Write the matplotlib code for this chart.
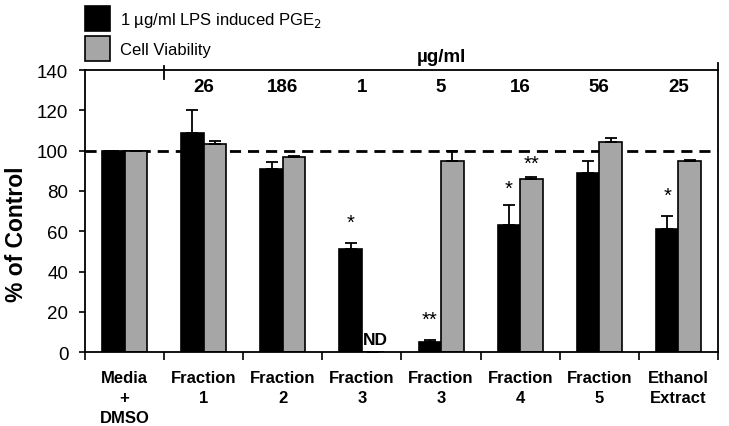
import numpy as np
import matplotlib
matplotlib.use('Agg')
import matplotlib.pyplot as plt

plt.rcParams['font.family'] = ['Liberation Sans', 'DejaVu Sans']

# ======= Data =======
categories = ['Media\n+\nDMSO', 'Fraction\n1', 'Fraction\n2', 'Fraction\n3',
              'Fraction\n3', 'Fraction\n4', 'Fraction\n5', 'Ethanol\nExtract']
doses = ['', '26', '186', '1', '5', '16', '56', '25']

pge2 = [100, 109, 91, 51, 5, 63, 89, 61]
pge2_err = [0, 11, 3.3, 3.3, 1, 10, 6, 6.7]
viability = [100, 103.3, 97, 0, 95, 86, 104.5, 95]
viability_err = [0, 1.3, 0.5, 0, 4.7, 1.1, 1.8, 0.3]

pge2_marks = ['', '', '', '*', '**', '*', '', '*']
pge2_mark_y = [0, 0, 0, 64.5, 16.5, 81.5, 0, 78]
viab_marks = ['', '', '', '', '', '**', '', '']
viab_mark_y = [0, 0, 0, 0, 0, 93.5, 0, 0]

x = np.arange(len(categories))
w = 0.285

fig = plt.figure(figsize=(7.29, 4.27), dpi=100)
ax = fig.add_axes([0.1166, 0.1726, 0.8683, 0.6611])

ax.axhline(100, color='black', linestyle=(0, (4, 2.5)), linewidth=2, zorder=1)

b1 = ax.bar(x - w / 2, pge2, w, color='black', edgecolor='black', linewidth=1.2,
            label='1 µg/ml LPS induced PGE$_2$', zorder=2)
b2 = ax.bar(x + w / 2, viability, w, color='#a6a6a6', edgecolor='black', linewidth=1.2,
            label='Cell Viability', zorder=2)

ax.errorbar(x - w / 2, pge2, yerr=[np.zeros(len(x)), pge2_err], fmt='none',
            ecolor='black', elinewidth=1.3, capsize=4.5, capthick=1.3, zorder=3)
ax.errorbar(x + w / 2, viability, yerr=[np.zeros(len(x)), viability_err], fmt='none',
            ecolor='black', elinewidth=1.3, capsize=4.5, capthick=1.3, zorder=3)

# significance stars
for i in range(len(x)):
    if pge2_marks[i]:
        ax.text(x[i] - w / 2, pge2_mark_y[i], pge2_marks[i], ha='center', va='center',
                fontsize=14.5)
    if viab_marks[i]:
        ax.text(x[i] + w / 2, viab_mark_y[i], viab_marks[i], ha='center', va='center',
                fontsize=14.5)
ax.text(x[3] + w / 2 + 0.03, 6.5, 'ND', ha='center', va='center', fontsize=12.5,
        fontweight='bold')

# doses along the top
for i in range(len(x)):
    if doses[i]:
        ax.text(x[i], 132, doses[i], ha='center', va='center', fontsize=13.5,
                fontweight='bold')
ax.text(4, 146.5, 'µg/ml', ha='center', va='center', fontsize=13.5, fontweight='bold')
ax.plot([0.5, 0.5], [135.5, 142], color='black', linewidth=1.3, clip_on=False)
ax.plot([7.5, 7.5], [140, 143.5], color='black', linewidth=1.3, clip_on=False)

ax.set_xlim(-0.5, 7.5)
ax.set_ylim(0, 140)
ax.set_yticks(np.arange(0, 141, 20))
ax.tick_params(axis='y', labelsize=13.5, length=4, width=1.2, direction='out', pad=8)
ax.set_xticks(x)
ax.set_xticklabels(categories, fontsize=12, fontweight='bold', linespacing=1.4)
ax.set_xticks(np.arange(-0.5, 8, 1), minor=True)
ax.tick_params(axis='x', which='major', length=0, pad=13)
ax.tick_params(axis='x', which='minor', length=6, width=1.2, direction='out')
for s in ax.spines.values():
    s.set_linewidth(1.3)

ax.set_ylabel('% of Control', fontsize=16.5, fontweight='bold')
ax.yaxis.set_label_coords(-0.09, 0.42)

fig.legend(handles=[b1, b2], loc='upper left', bbox_to_anchor=(0.117, 0.984),
           frameon=False, fontsize=12, handlelength=1.5, handleheight=1.95,
           handletextpad=0.6, labelspacing=0.3, borderpad=0, borderaxespad=0)

plt.savefig('out.png', dpi=100)
